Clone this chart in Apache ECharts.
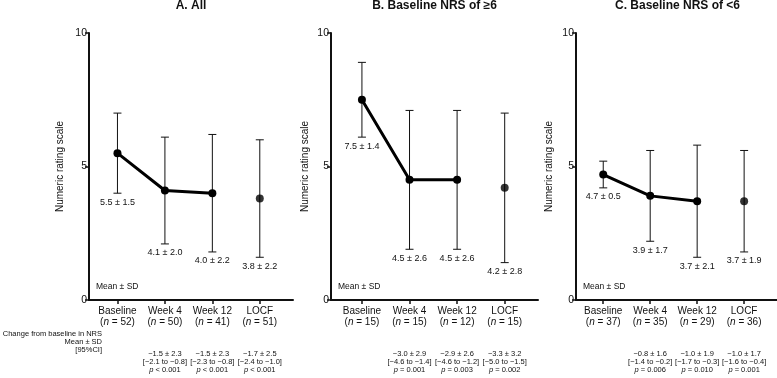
<!DOCTYPE html>
<html>
<head>
<meta charset="utf-8">
<script src="https://cdn.jsdelivr.net/npm/echarts@6.0.0/dist/echarts.min.js"></script>
<style>
html, body { margin: 0; padding: 0; background: #fff; }
#chart { width: 777px; height: 378px; }
</style>
</head>
<body>
<div id="chart"></div>
<script>
const categories = ['Baseline', 'Week 4', 'Week 12', 'LOCF']
const panelTitles = ['A. All', 'B. Baseline NRS of ≥6', 'C. Baseline NRS of <6']

// A. All
const nA = [52, 50, 41, 51]
const meanA = [5.5, 4.1, 4.0, 3.8]
const sdA = [1.5, 2.0, 2.2, 2.2]
const changeA = ['', '−1.5 ± 2.3', '−1.5 ± 2.3', '−1.7 ± 2.5']
const ciA = ['', '[−2.1 to −0.8]', '[−2.3 to −0.8]', '[−2.4 to −1.0]']
const pA = ['', '< 0.001', '< 0.001', '< 0.001']

// B. NRS >= 6
const nB = [15, 15, 12, 15]
const meanB = [7.5, 4.5, 4.5, 4.2]
const sdB = [1.4, 2.6, 2.6, 2.8]
const changeB = ['', '−3.0 ± 2.9', '−2.9 ± 2.6', '−3.3 ± 3.2']
const ciB = ['', '[−4.6 to −1.4]', '[−4.6 to −1.2]', '[−5.0 to −1.5]']
const pB = ['', '= 0.001', '= 0.003', '= 0.002']

// C. NRS < 6
const nC = [37, 35, 29, 36]
const meanC = [4.7, 3.9, 3.7, 3.7]
const sdC = [0.5, 1.7, 2.1, 1.9]
const changeC = ['', '−0.8 ± 1.6', '−1.0 ± 1.9', '−1.0 ± 1.7']
const ciC = ['', '[−1.4 to −0.2]', '[−1.7 to −0.3]', '[−1.6 to −0.4]']
const pC = ['', '= 0.006', '= 0.010', '= 0.001']

const panels = [
  {n: nA, mean: meanA, sd: sdA, change: changeA, ci: ciA, p: pA, left: 89, width: 204, min: 0.4, nameGap: 24},
  {n: nB, mean: meanB, sd: sdB, change: changeB, ci: ciB, p: pB, left: 331, width: 207, min: 0.35, nameGap: 21},
  {n: nC, mean: meanC, sd: sdC, change: changeC, ci: ciC, p: pC, left: 576, width: 203, min: 0.42, nameGap: 22},
]

const font = 'Liberation Sans, Arial, Helvetica, sans-serif'
const chart = echarts.init(document.getElementById('chart'))

//x轴标签
const xLabel = (panel) => (v) => {
  const i = Math.round(v) - 1
  let s = '{c|' + categories[i] + '}\n{c|(}{ci|n}{c| = ' + panel.n[i] + ')}\n{gap|}'
  if (panel.change[i]) {
    s += '\n{s|' + panel.change[i] + '}\n{s|' + panel.ci[i] + '}\n{si|p}{s| ' + panel.p[i] + '}'
  }
  return s
}

//误差线
const errorBarItem = (params, api) => {
  const x = api.value(0), m = api.value(1), sd = api.value(2)
  const top = api.coord([x, m + sd])
  const bot = api.coord([x, m - sd])
  const cap = 4
  const lineStyle = {stroke: '#111', lineWidth: 1}
  return {
    type: 'group',
    children: [
      {type: 'line', shape: {x1: top[0], y1: top[1], x2: bot[0], y2: bot[1]}, style: lineStyle},
      {type: 'line', shape: {x1: top[0] - cap, y1: top[1], x2: top[0] + cap, y2: top[1]}, style: lineStyle},
      {type: 'line', shape: {x1: bot[0] - cap, y1: bot[1], x2: bot[0] + cap, y2: bot[1]}, style: lineStyle},
      {type: 'text', style: {
        x: bot[0], y: bot[1] + 9, text: m.toFixed(1) + ' ± ' + sd.toFixed(1),
        font: '9px ' + font, fill: '#111', align: 'center', verticalAlign: 'middle'
      }},
    ]
  }
}

const grid = [], xAxis = [], yAxis = [], series = [], title = [], graphic = []

panels.forEach((panel, k) => {
  grid.push({left: panel.left, width: panel.width, top: 33, height: 267})
  title.push({
    text: panelTitles[k], left: panel.left + panel.width / 2, top: 0, padding: 0, textAlign: 'center',
    textStyle: {fontFamily: font, fontSize: 12, fontWeight: 'bold', color: '#111'}
  })
  xAxis.push({
    type: 'value', gridIndex: k, min: panel.min, max: 4.7,
    axisLine: {show: true, onZero: false, lineStyle: {color: '#111', width: 2}},
    axisTick: {show: true, customValues: [1, 2, 3, 4], length: 4, lineStyle: {color: '#111', width: 1.5}},
    axisLabel: {
      show: true, customValues: [1, 2, 3, 4], margin: 5, formatter: xLabel(panel),
      rich: {
        c: {fontFamily: font, fontSize: 10, lineHeight: 11.5, color: '#111'},
        ci: {fontFamily: font, fontSize: 10, lineHeight: 11.5, color: '#111', fontStyle: 'italic'},
        gap: {fontSize: 8, lineHeight: 21.5},
        s: {fontFamily: font, fontSize: 7.5, lineHeight: 8, color: '#111'},
        si: {fontFamily: font, fontSize: 7.5, lineHeight: 8, color: '#111', fontStyle: 'italic'},
      }
    },
    splitLine: {show: false},
  })
  yAxis.push({
    type: 'value', gridIndex: k, min: 0, max: 10, interval: 5,
    name: 'Numeric rating scale', nameLocation: 'middle', nameGap: panel.nameGap,
    nameTextStyle: {fontFamily: font, fontSize: 10, color: '#111'},
    axisLine: {show: true, onZero: false, lineStyle: {color: '#111', width: 2}},
    axisTick: {show: true, length: 4, lineStyle: {color: '#111', width: 1.5}},
    axisLabel: {fontFamily: font, fontSize: 10.5, color: '#111', margin: 2},
    splitLine: {show: false},
  })
  series.push({
    type: 'custom', xAxisIndex: k, yAxisIndex: k, z: 1,
    renderItem: errorBarItem,
    encode: {x: 0, y: 1},
    data: panel.mean.map((m, i) => [i + 1, m, panel.sd[i]]),
  })
  series.push({
    type: 'line', xAxisIndex: k, yAxisIndex: k, z: 3,
    symbol: 'circle', symbolSize: 8,
    lineStyle: {color: '#000', width: 3},
    itemStyle: {color: '#000'},
    data: panel.mean.slice(0, 3).map((m, i) => [i + 1, m]),
  })
  series.push({
    type: 'scatter', xAxisIndex: k, yAxisIndex: k, z: 3,
    symbol: 'circle', symbolSize: 8,
    itemStyle: {color: '#000'},
    data: [[4, panel.mean[3]]],
  })
  graphic.push({
    type: 'text', left: panel.left + 7, top: 282,
    style: {text: 'Mean ± SD', font: '8.5px ' + font, fill: '#111'}
  })
})

graphic.push({
  type: 'text', x: 102, y: 330,
  style: {
    text: 'Change from baseline in NRS\nMean ± SD\n[95%CI]', font: '7.5px ' + font,
    fill: '#111', align: 'right', lineHeight: 8
  }
})

chart.setOption({
  animation: false,
  title, grid, xAxis, yAxis, series, graphic,
})
</script>
</body>
</html>
